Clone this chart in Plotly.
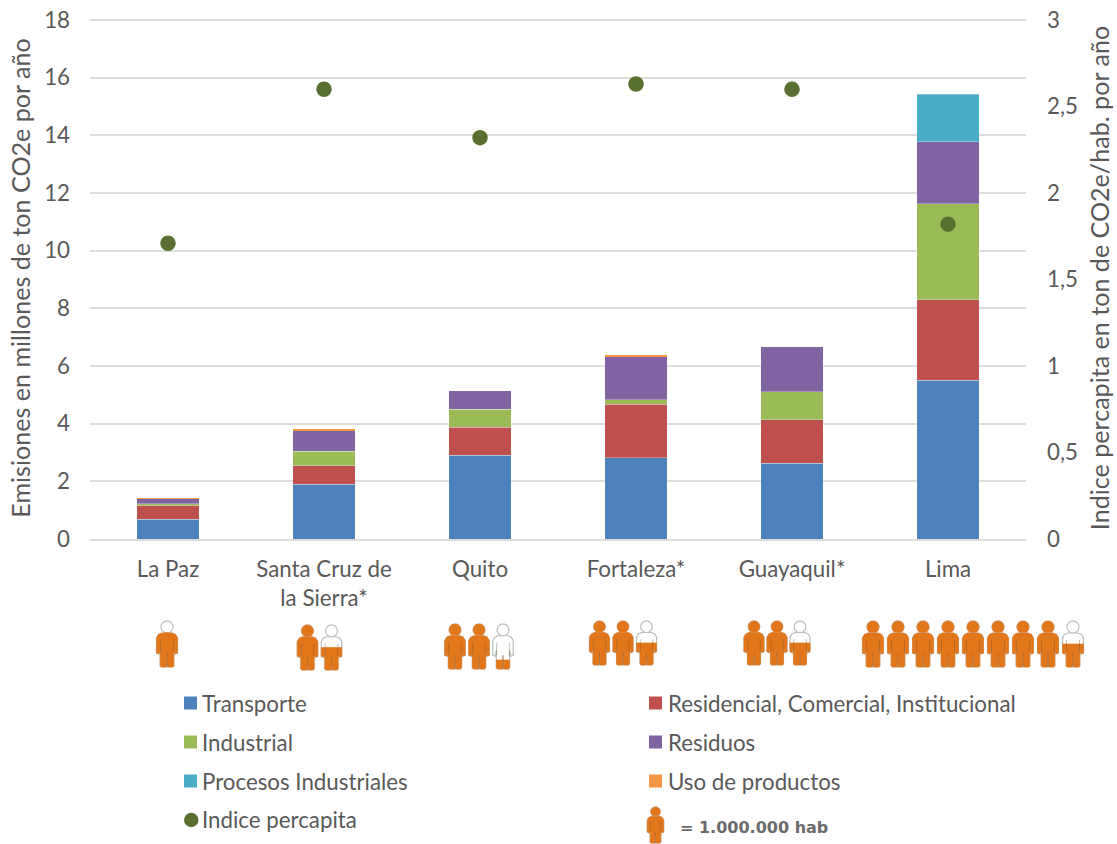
import math
import plotly.graph_objects as go

# Emissions by sector, million tonnes CO2e
cities = ["La Paz", "Santa Cruz de<br>la Sierra*", "Quito", "Fortaleza*", "Guayaquil*", "Lima"]
transporte = [0.68, 1.90, 2.90, 2.82, 2.62, 5.50]
residencial = [0.48, 0.64, 0.97, 1.86, 1.51, 2.80]
industrial = [0.07, 0.51, 0.63, 0.15, 0.97, 3.33]
residuos = [0.16, 0.72, 0.65, 1.50, 1.56, 2.14]
procesos = [0.0, 0.0, 0.0, 0.0, 0.0, 1.66]
uso_productos = [0.03, 0.03, 0.0, 0.04, 0.0, 0.0]
# Tonnes CO2e per inhabitant
percapita = [1.71, 2.60, 2.32, 2.63, 2.60, 1.82]
# Inhabitants, millions (one figure per million)
poblacion = [0.75, 1.5, 2.2, 2.5, 2.5, 8.5]

sector_names = ["Transporte", "Residencial, Comercial, Institucional", "Industrial",
                "Residuos", "Procesos Industriales", "Uso de productos"]
dots_name = "Indice percapita"
icon_caption = "= 1.000.000 hab"
y_title = "Emisiones en millones de ton CO2e por año"
y2_title = "Indice percapita en ton de CO2e/hab. por año"

sector_values = [transporte, residencial, industrial, residuos, procesos, uso_productos]
sector_colors = ["#4F81BD", "#C0504D", "#9BBB59", "#8064A2", "#4BACC6", "#F79646"]
DOT_COLOR = "#5A7030"
TEXT = "#595959"
GRID = "#DCDCDC"
ICON_FILL = "#E2761A"
ICON_EDGE = "#BDBDBD"
ICON_SEAM = "rgba(120,80,40,0.45)"
FONT = "Lato"
FONT_SIZE = 22.3
TITLE_SIZE = 25.1

W, H = 1117, 844
# Plot area in pixels; the top sits slightly above the 18 line so that line is still drawn
LEFT, RIGHT, TOP, BOTTOM = 90, 1026, 17, 539
PX_PER_UNIT = (539 - 20) / 18
Y_MAX = (BOTTOM - TOP) / PX_PER_UNIT


def px(x):
    return (x - LEFT) / (RIGHT - LEFT)


def py(y):
    return (BOTTOM - y) / (BOTTOM - TOP)


def path_from(points, closed=True):
    d = "M" + "L".join(f"{px(x):.5f},{py(y):.5f}" for x, y in points)
    return d + ("Z" if closed else "")


def person_outlines(h):
    """Head and body polygons in (dx, dy) from the top centre, for height h."""
    k = h / 46
    head = [(6.0 * k * math.cos(2 * math.pi * i / 24),
             6.0 * k + 6.0 * k * math.sin(2 * math.pi * i / 24)) for i in range(24)]
    half = [(0, 12), (5, 12), (8.5, 13.5), (10.5, 17), (10.5, 32), (8, 33), (6.8, 27),
            (6.8, 45), (5.5, 46), (0.7, 46), (0, 32)]
    half = [(x * k, y * k) for x, y in half]
    body = half + [(-x, y) for x, y in reversed(half[:-1])]
    return head, body


def clip_below(points, level):
    """Keep the part of a polygon lying below the horizontal line y = level."""
    out = []
    for i, (x0, y0) in enumerate(points):
        x1, y1 = points[(i + 1) % len(points)]
        if y0 >= level:
            out.append((x0, y0))
        if (y0 >= level) != (y1 >= level):
            t = (level - y0) / (y1 - y0)
            out.append((x0 + t * (x1 - x0), level))
    return out


def person(cx, top, h, share):
    """Shapes for one figure, filled from the feet up by the given share."""
    shapes = []
    head, body = person_outlines(h)
    level = h * (1 - share)
    for poly in (head, body):
        abs_poly = [(cx + x, top + y) for x, y in poly]
        shapes.append(dict(type="path", path=path_from(abs_poly), xref="paper", yref="paper",
                           fillcolor="#FFFFFF", line=dict(color=ICON_EDGE, width=1.2), layer="above"))
        part = clip_below(poly, level)
        if len(part) > 2:
            abs_part = [(cx + x, top + y) for x, y in part]
            shapes.append(dict(type="path", path=path_from(abs_part), xref="paper", yref="paper",
                               fillcolor=ICON_FILL, line=dict(color=ICON_FILL, width=0.6), layer="above"))
    # Seams between arms and torso, and between the legs
    k = h / 46
    for dx, y0, y1 in ((-6.5, 19, 32), (6.5, 19, 32), (0, 32, 46)):
        seam = [(cx + dx * k, top + y0 * k), (cx + dx * k, top + y1 * k)]
        shapes.append(dict(type="path", path=path_from(seam, closed=False), xref="paper", yref="paper",
                           line=dict(color=ICON_SEAM, width=0.8), layer="above"))
    return shapes


fig = go.Figure()

for name, values, color in zip(sector_names, sector_values, sector_colors):
    # The thin top sector keeps no edge, otherwise the edge would wash it out
    edge = 0 if name == sector_names[-1] else 1
    fig.add_trace(go.Bar(x=cities, y=values, name=name,
                         marker=dict(color=color, line=dict(width=edge, color="rgba(255,255,255,0.3)")),
                         showlegend=False))

fig.add_trace(go.Scatter(x=cities, y=percapita, yaxis="y2", mode="markers", name=dots_name,
                         marker=dict(color=DOT_COLOR, size=15.5, line=dict(width=0)),
                         showlegend=False))

shapes = []
annotations = []

# Population pictograms: pixel offset of each row from its category centre, plus row top and height
icon_rows = [(-1, 621, 46, 24), (-4.5, 625, 45, 24), (-1, 624, 45, 24),
             (-13, 621, 44, 23.5), (-15, 621, 44, 23), (25, 621, 46, 25)]
step = (RIGHT - LEFT) / len(cities)
for i, (pop, (off, top, h, gap)) in enumerate(zip(poblacion, icon_rows)):
    count = math.ceil(pop)
    centre = LEFT + step * (i + 0.5) + off
    for j in range(count):
        share = min(1.0, pop - j)
        shapes += person(centre + (j - (count - 1) / 2) * gap, top, h, share)

# Hand-placed two-column key
col_swatch = [184, 649]
col_text = [200, 666]
row_y = [703, 742, 781, 820]
for k, (name, color) in enumerate(zip(sector_names, sector_colors)):
    col, row = k % 2, k // 2
    x, y = col_swatch[col], row_y[row]
    shapes.append(dict(type="rect", xref="paper", yref="paper", x0=px(x), x1=px(x + 13),
                       y0=py(y + 6.5), y1=py(y - 6.5), fillcolor=color, line=dict(width=0)))
    annotations.append(dict(text=name, x=px(col_text[col]), y=py(y), xref="paper", yref="paper",
                            xanchor="left", yanchor="middle", showarrow=False,
                            font=dict(family=FONT, size=FONT_SIZE, color=TEXT)))

shapes.append(dict(type="circle", xref="paper", yref="paper", x0=px(184), x1=px(198.5),
                   y0=py(row_y[3] + 7.2), y1=py(row_y[3] - 7.2), fillcolor=DOT_COLOR, line=dict(width=0)))
annotations.append(dict(text=dots_name, x=px(col_text[0]), y=py(row_y[3]), xref="paper", yref="paper",
                        xanchor="left", yanchor="middle", showarrow=False,
                        font=dict(family=FONT, size=FONT_SIZE, color=TEXT)))

shapes += person(655.5, 807, 36, 1.0)
annotations.append(dict(text=f"<b>{icon_caption}</b>", x=px(678), y=py(827), xref="paper", yref="paper",
                        xanchor="left", yanchor="middle", showarrow=False,
                        font=dict(family="DejaVu Sans", size=16, color="#6B6B6B")))

fig.update_layout(
    width=W, height=H, autosize=False,
    margin=dict(l=LEFT, r=W - RIGHT, t=TOP, b=H - BOTTOM, pad=0),
    paper_bgcolor="white", plot_bgcolor="white",
    barmode="stack", bargap=0.6, separators=",.",
    font=dict(family=FONT, size=FONT_SIZE, color=TEXT),
    xaxis=dict(showgrid=False, showline=True, linecolor=GRID, linewidth=2, ticks="",
               tickfont=dict(size=FONT_SIZE, color=TEXT), ticklabelstandoff=9, automargin=False),
    yaxis=dict(range=[0, Y_MAX], dtick=2, showgrid=True, gridcolor=GRID, gridwidth=1.7, zeroline=False,
               showline=False, ticks="", ticklabelstandoff=19, automargin=False,
               title=dict(text=y_title, standoff=6, font=dict(size=TITLE_SIZE, color=TEXT))),
    yaxis2=dict(range=[0, Y_MAX / 6], dtick=0.5, overlaying="y", side="right", showgrid=False,
                zeroline=False, showline=False, ticks="", ticklabelstandoff=20, automargin=False,
                title=dict(text=y2_title, standoff=14, font=dict(size=TITLE_SIZE, color=TEXT))),
    shapes=shapes, annotations=annotations, showlegend=False,
)

fig.write_html("out.html", config=dict(displayModeBar=False))
